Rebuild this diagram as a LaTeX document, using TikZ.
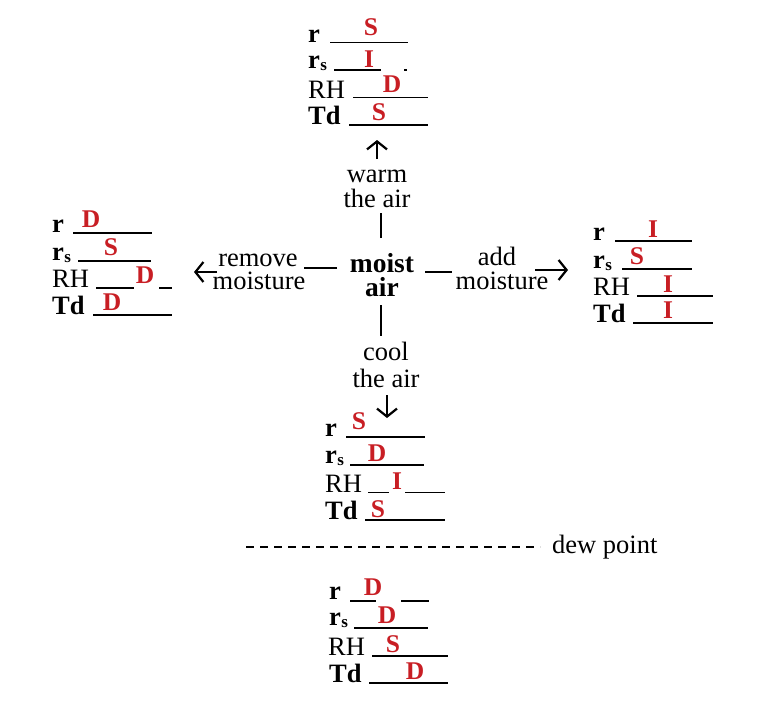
\documentclass[tikz,border=0pt]{standalone}
\usepackage{fontspec}
\setmainfont{Liberation Serif}
\usetikzlibrary{arrows.meta}
\definecolor{ansred}{RGB}{200,30,36}
\newcommand\rsub{\textbf{r}\kern0.3pt\raisebox{-2pt}{\fontsize{17}{17}\selectfont\textbf{s}}}
\begin{document}
\begin{tikzpicture}[x=1pt,y=-1pt,
  txt/.style={inner sep=0pt, font=\fontsize{26.5}{28}\selectfont},
  btxt/.style={inner sep=0pt, font=\fontsize{27.5}{28}\selectfont\bfseries},
  lab/.style={txt, anchor=base west},
  ctr/.style={txt, anchor=base},
  ans/.style={inner sep=0pt, anchor=base, text=ansred, font=\fontsize{25.5}{26}\selectfont\bfseries},
  ul/.style={line width=1.3pt},
  conn/.style={line width=2.8pt},
  arr/.style={line width=2.2pt, -{Straight Barb[length=8pt,width=20pt]}},
  dashln/.style={line width=2.4pt, dash pattern=on 8pt off 6pt},
  ]
\useasboundingbox (0,0) rectangle (771,715);

% ---------- centre ----------
\node[btxt, anchor=base] (moist) at (382,272) {moist};
\node[btxt, anchor=base] (air) at (382,296) {air};

% ---------- top block ----------
\node[lab] (t1) at (308,42) {\textbf{r}};
\node[lab] (t2) at (308,68) {\rsub};
\node[lab] (t3) at (308,98) {RH};
\node[lab] (t4) at (308,124) {\textbf{Td}};
\draw[ul] (330,42.5) -- (408,42.5);
\draw[ul] (334,70) -- (381,70);
\draw[ul] (404,70) -- (407,70);
\draw[ul] (353,97.5) -- (428,97.5);
\draw[ul] (349,125) -- (428,125);
\node[ans] (ta1) at (371,35) {S};
\node[ans] (ta2) at (369,67) {I};
\node[ans] (ta3) at (392,92) {D};
\node[ans] (ta4) at (379,120) {S};

\node[ctr] (warm1) at (377,182) {warm};
\node[ctr] (warm2) at (377,207) {the air};
\coordinate (upA) at (381,238);
\coordinate (upB) at (381,213);
\coordinate (upC) at (377,159);
\coordinate (upD) at (377,140);
\draw[conn] (upA) -- (upB);
\draw[arr] (upC) -- (upD);

% ---------- left block ----------
\node[lab] (l1) at (52,232) {\textbf{r}};
\node[lab] (l2) at (52,260) {\rsub};
\node[lab] (l3) at (52,287) {RH};
\node[lab] (l4) at (52,314) {\textbf{Td}};
\draw[ul] (73,233) -- (152,233);
\draw[ul] (78,261) -- (151,261);
\draw[ul] (96,288) -- (134,288);
\draw[ul] (159,288) -- (172,288);
\draw[ul] (93,315) -- (172,315);
\node[ans] (la1) at (91,227) {D};
\node[ans] (la2) at (111,255) {S};
\node[ans] (la3) at (145,283) {D};
\node[ans] (la4) at (112,310) {D};

\node[ctr] (rem1) at (258,266) {remove};
\node[ctr] (rem2) at (259,289) {moisture};
\coordinate (lfA) at (337,268);
\coordinate (lfB) at (304,268);
\coordinate (lfC) at (217,272);
\coordinate (lfD) at (194,272);
\draw[conn] (lfA) -- (lfB);
\draw[arr] (lfC) -- (lfD);

% ---------- right block ----------
\node[lab] (r1) at (593,240) {\textbf{r}};
\node[lab] (r2) at (593,268) {\rsub};
\node[lab] (r3) at (593,295) {RH};
\node[lab] (r4) at (593,322) {\textbf{Td}};
\draw[ul] (615,241) -- (692,241);
\draw[ul] (622,269) -- (692,269);
\draw[ul] (637,296) -- (713,296);
\draw[ul] (633,323) -- (713,323);
\node[ans] (ra1) at (653,237) {I};
\node[ans] (ra2) at (637,264) {S};
\node[ans] (ra3) at (668,292) {I};
\node[ans] (ra4) at (668,318) {I};

\node[ctr] (add1) at (497,265) {add};
\node[ctr] (add2) at (502,289) {moisture};
\coordinate (rtA) at (425,272);
\coordinate (rtB) at (452,272);
\coordinate (rtC) at (535,270);
\coordinate (rtD) at (568,270);
\draw[conn] (rtA) -- (rtB);
\draw[arr] (rtC) -- (rtD);

% ---------- down ----------
\coordinate (dnA) at (381,305);
\coordinate (dnB) at (381,336);
\draw[conn] (dnA) -- (dnB);
\node[ctr] (cool1) at (386,360) {cool};
\node[ctr] (cool2) at (386,387) {the air};
\coordinate (dnC) at (387,395);
\coordinate (dnD) at (387,418);
\draw[arr] (dnC) -- (dnD);

% ---------- bottom block ----------
\node[lab] (b1) at (325,436) {\textbf{r}};
\node[lab] (b2) at (325,463) {\rsub};
\node[lab] (b3) at (325,492) {RH};
\node[lab] (b4) at (325,519) {\textbf{Td}};
\draw[ul] (346,437) -- (425,437);
\draw[ul] (350,465) -- (424,465);
\draw[ul] (368,492.5) -- (389,492.5);
\draw[ul] (405,492.5) -- (445,492.5);
\draw[ul] (365,520) -- (445,520);
\node[ans] (ba1) at (359,429) {S};
\node[ans] (ba2) at (377,461) {D};
\node[ans] (ba3) at (397,489) {I};
\node[ans] (ba4) at (378,517) {S};

% ---------- dew point ----------
\draw[dashln] (246,547) -- (540,547);
\node[lab] (dew) at (552,553) {dew point};

% ---------- lowest block ----------
\node[lab] (d1) at (329,599) {\textbf{r}};
\node[lab] (d2) at (329,625) {\rsub};
\node[lab] (d3) at (328,655) {RH};
\node[lab] (d4) at (329,682) {\textbf{Td}};
\draw[ul] (350,601) -- (376,601);
\draw[ul] (401,601) -- (429,601);
\draw[ul] (354,628) -- (428,628);
\draw[ul] (372,656) -- (448,656);
\draw[ul] (369,683) -- (448,683);
\node[ans] (da1) at (373,595) {D};
\node[ans] (da2) at (387,623) {D};
\node[ans] (da3) at (393,652) {S};
\node[ans] (da4) at (415,679) {D};
\end{tikzpicture}
\end{document}
